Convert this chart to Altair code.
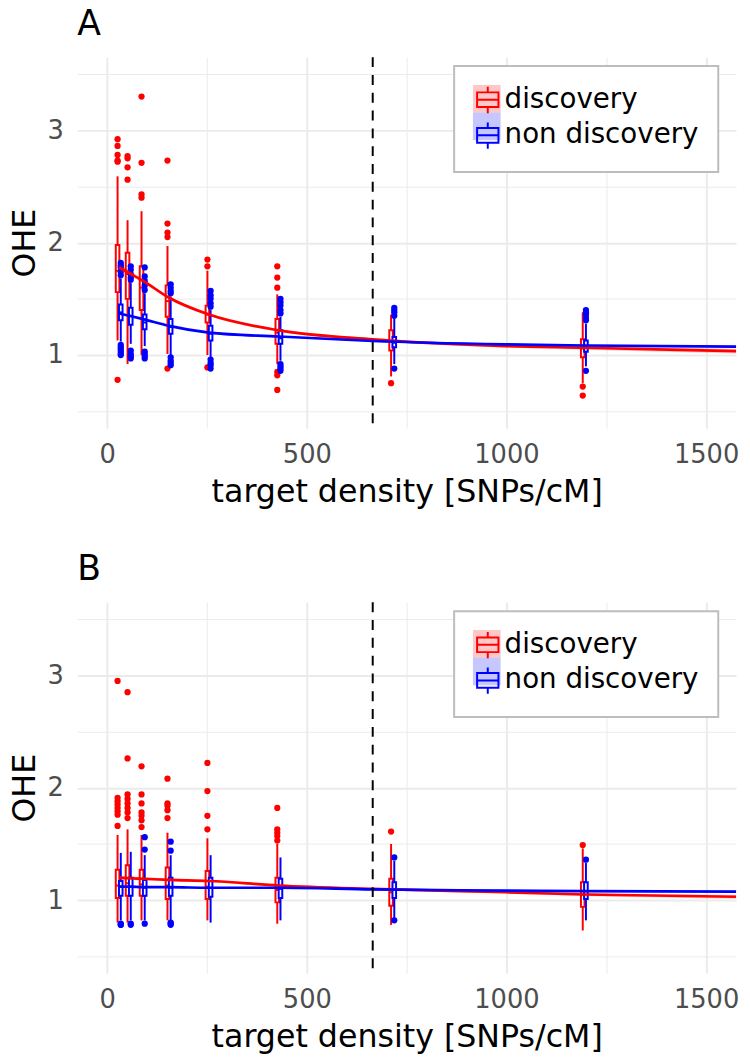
import altair as alt
import pandas as pd

# ---------------- data ----------------
densities = [30, 55, 90, 155, 255, 430, 715, 1195]
groups = ["discovery", "non discovery"]
colors = ["#FF0000", "#0000FF"]
cutoff = [665]

# Panel A - discovery
a_disc_lo = [1.13, 0.92, 1.00, 1.01, 1.00, 0.92, 0.81, 0.75]
a_disc_q1 = [1.56, 1.50, 1.40, 1.34, 1.29, 1.10, 1.04, 0.98]
a_disc_med = [1.75, 1.72, 1.60, 1.48, 1.36, 1.20, 1.12, 1.06]
a_disc_q3 = [1.98, 1.91, 1.79, 1.62, 1.44, 1.32, 1.22, 1.14]
a_disc_hi = [2.59, 2.20, 2.28, 1.97, 1.75, 1.54, 1.36, 1.38]
a_disc_out = [
    [2.92, 2.86, 2.78, 2.73, 2.72, 0.78],
    [2.77, 2.75, 2.67, 2.56],
    [3.30, 2.71, 2.43, 2.40],
    [2.73, 2.17, 2.09, 2.05, 0.88],
    [1.85, 1.79, 0.89],
    [1.79, 1.69, 1.60, 0.85, 0.82, 0.69],
    [0.75],
    [0.72, 0.64],
]
# Panel A - non discovery
a_nd_lo = [1.12, 1.10, 1.08, 1.00, 0.98, 0.95, 0.92, 0.90]
a_nd_q1 = [1.31, 1.27, 1.23, 1.19, 1.13, 1.10, 1.07, 1.03]
a_nd_med = [1.38, 1.35, 1.29, 1.25, 1.19, 1.15, 1.11, 1.08]
a_nd_q3 = [1.45, 1.42, 1.36, 1.32, 1.26, 1.22, 1.16, 1.13]
a_nd_hi = [1.68, 1.64, 1.55, 1.52, 1.40, 1.34, 1.33, 1.28]
a_nd_out = [
    [1.82, 1.80, 1.78, 1.74, 1.71, 1.09, 1.07, 1.05, 1.03, 1.01, 1.00],
    [1.79, 1.76, 1.72, 1.69, 1.67, 1.04, 1.01, 0.99, 0.97],
    [1.78, 1.70, 1.66, 1.62, 1.58, 1.03, 1.01, 0.99, 0.97],
    [1.63, 1.60, 1.57, 1.55, 0.98, 0.95, 0.93, 0.91],
    [1.57, 1.53, 1.50, 1.46, 1.43, 0.96, 0.93, 0.91, 0.88],
    [1.50, 1.47, 1.44, 1.40, 1.37, 0.92, 0.90, 0.88, 0.86],
    [1.42, 1.40, 1.38, 1.35, 0.88],
    [1.40, 1.38, 1.36, 1.33, 1.31, 0.86],
]

# Panel B - discovery
b_disc_lo = [0.80, 0.80, 0.82, 0.82, 0.82, 0.79, 0.78, 0.73]
b_disc_q1 = [1.02, 1.04, 1.04, 1.01, 1.01, 0.98, 0.95, 0.94]
b_disc_med = [1.13, 1.15, 1.14, 1.13, 1.12, 1.09, 1.07, 1.05]
b_disc_q3 = [1.27, 1.31, 1.27, 1.29, 1.26, 1.20, 1.19, 1.16]
b_disc_hi = [1.58, 1.63, 1.58, 1.60, 1.55, 1.50, 1.50, 1.46]
b_disc_out = [
    [2.95, 1.91, 1.88, 1.85, 1.82, 1.79, 1.76, 1.66],
    [2.85, 2.26, 1.94, 1.90, 1.86, 1.82, 1.78, 1.73],
    [2.19, 1.94, 1.86, 1.78, 1.75, 1.71, 1.65],
    [2.08, 1.86, 1.84, 1.80, 1.73],
    [2.22, 1.97, 1.75, 1.63],
    [1.82, 1.63, 1.60, 1.57, 1.53],
    [1.61],
    [1.49],
]
# Panel B - non discovery
b_nd_lo = [0.82, 0.82, 0.82, 0.82, 0.80, 0.82, 0.84, 0.82]
b_nd_q1 = [1.04, 1.04, 1.04, 1.04, 1.03, 1.02, 1.02, 1.01]
b_nd_med = [1.12, 1.12, 1.11, 1.11, 1.11, 1.10, 1.09, 1.08]
b_nd_q3 = [1.17, 1.20, 1.18, 1.20, 1.20, 1.19, 1.16, 1.16]
b_nd_hi = [1.42, 1.43, 1.40, 1.40, 1.40, 1.38, 1.35, 1.33]
b_nd_out = [
    [0.79, 0.78, 0.78],
    [0.79, 0.78],
    [1.56, 1.45, 0.79],
    [1.52, 1.44, 0.80, 0.79, 0.78],
    [],
    [],
    [1.38, 0.82],
    [1.36],
]

# smooth fits (read at these densities)
fit_x = [30, 55, 90, 155, 255, 430, 665, 1000, 1195, 1575]
a_disc_fit = [1.78, 1.73, 1.66, 1.51, 1.36, 1.22, 1.14, 1.08, 1.065, 1.035]
a_disc_se = [0.03, 0.025, 0.02, 0.015, 0.012, 0.012, 0.012, 0.015, 0.018, 0.022]
a_nd_fit = [1.37, 1.35, 1.32, 1.26, 1.20, 1.165, 1.125, 1.095, 1.085, 1.075]
a_nd_se = [0.012, 0.01, 0.008, 0.007, 0.006, 0.006, 0.006, 0.007, 0.008, 0.01]
b_disc_fit = [1.20, 1.195, 1.19, 1.18, 1.17, 1.13, 1.10, 1.07, 1.05, 1.03]
b_disc_se = [0.02, 0.018, 0.015, 0.012, 0.01, 0.01, 0.01, 0.012, 0.014, 0.018]
b_nd_fit = [1.12, 1.12, 1.115, 1.115, 1.11, 1.11, 1.095, 1.085, 1.08, 1.075]
b_nd_se = [0.008, 0.007, 0.006, 0.005, 0.005, 0.005, 0.005, 0.006, 0.007, 0.008]

# ---------------- helpers ----------------
FONT = "DejaVu Sans"
BOX_PATH = "M0,-0.93L0,-0.53M-0.77,-0.53L0.77,-0.53L0.77,0.53L-0.77,0.53ZM-0.77,0L0.77,0M0,0.53L0,0.97"

xscale = alt.Scale(domain=[-75, 1575], nice=False, zero=False)
yscale = alt.Scale(domain=[0.35, 3.65], nice=False, zero=False)

xaxis = alt.Axis(
    values=[0, 250, 500, 750, 1000, 1250, 1500],
    labelExpr="datum.value % 500 === 0 ? format(datum.value, 'd') : ''",
    gridWidth={"condition": {"test": "datum.value % 500 === 0", "value": 2}, "value": 1},
    labelPadding=14,
    titlePadding=9,
)
yaxis = alt.Axis(
    values=[0.5, 1, 1.5, 2, 2.5, 3, 3.5],
    labelExpr="datum.value % 1 === 0 ? format(datum.value, 'd') : ''",
    gridWidth={"condition": {"test": "datum.value % 1 === 0", "value": 2}, "value": 1},
    labelPadding=14,
    titlePadding=6,
)
XT = "target density [SNPs/cM]"
YT = "OHE"


def X(field):
    return alt.X(field, type="quantitative", scale=xscale, axis=xaxis, title=XT)


def Y(field):
    return alt.Y(field, type="quantitative", scale=yscale, axis=yaxis, title=YT)


def legends():
    # drawn on top: pale key backgrounds only
    fill_leg = alt.Legend(
        orient="none", legendX=381, legendY=9, title=None,
        symbolType="square", symbolSize=784, symbolOpacity=0.22,
        symbolStrokeWidth=0, padding=19, labelOffset=2,
        labelFontSize=28, labelFont=FONT, labelColor="black", labelOpacity=0,
        labelLimit=400,
    )
    # drawn underneath: frame, white background, box icons and labels
    stroke_leg = alt.Legend(
        orient="none", legendX=381, legendY=9, title=None,
        symbolType=BOX_PATH, symbolSize=784, symbolStrokeWidth=2,
        symbolFillColor="transparent", padding=19,
        strokeColor="#bdbdbd", fillColor="white",
        labelOffset=2, labelFontSize=28, labelFont=FONT, labelColor="black",
        labelLimit=400,
    )
    return fill_leg, stroke_leg


def panel(title, box_tables, out_tables, fit_tables):
    fill_leg, stroke_leg = legends()
    fill_scale = alt.Scale(domain=groups, range=colors)
    stroke_scale = alt.Scale(range=colors)

    def S():
        return alt.Stroke("g:N", scale=stroke_scale, legend=stroke_leg)

    def F():
        return alt.Fill("g:N", scale=fill_scale, legend=fill_leg)

    rows = []
    for g, (lo, q1, med, q3, hi) in zip(groups, box_tables):
        for i, d in enumerate(densities):
            rows.append(dict(g=g, d=d, lo=lo[i], q1=q1[i], med=med[i], q3=q3[i], hi=hi[i]))
    box_df = pd.DataFrame(rows)
    orows = []
    for g, outs in zip(groups, out_tables):
        for i, d in enumerate(densities):
            for v in outs[i]:
                orows.append(dict(g=g, d=d, v=v))
    out_df = pd.DataFrame(orows)
    frows = []
    for g, (fit, se) in zip(groups, fit_tables):
        for i, x in enumerate(fit_x):
            frows.append(dict(g=g, x=x, fit=fit[i], lo=fit[i] - se[i], hi=fit[i] + se[i]))
    fit_df = pd.DataFrame(frows)

    dodge = "datum.d + (datum.g === 'discovery' ? -4 : 4)"
    layers = []
    for g in groups:
        base = (
            alt.Chart(box_df)
            .transform_filter(alt.datum.g == g)
            .transform_calculate(pos=dodge)
            .transform_calculate(xa="datum.pos - 4.5", xb="datum.pos + 4.5")
        )
        layers.append(base.mark_rule(strokeWidth=2).encode(x=X("pos"), y=Y("lo"), y2="hi:Q", stroke=S()))
        layers.append(
            base.mark_bar(fill="white", strokeWidth=2).encode(
                x=X("xa"), x2="xb:Q", y=Y("q1"), y2="q3:Q", stroke=S()
            )
        )
        layers.append(
            base.mark_rule(strokeWidth=2).encode(x=X("xa"), x2="xb:Q", y=Y("med"), stroke=S())
        )
        layers.append(
            alt.Chart(out_df)
            .transform_filter(alt.datum.g == g)
            .transform_calculate(pos=dodge)
            .mark_circle(size=40, opacity=1)
            .encode(x=X("pos"), y=Y("v"), fill=F())
        )
    for g in groups:
        fb = alt.Chart(fit_df).transform_filter(alt.datum.g == g)
        layers.append(
            fb.mark_area(opacity=0.2, interpolate="monotone").encode(
                x=X("x"), y=Y("lo"), y2="hi:Q", fill=F()
            )
        )
        layers.append(
            fb.mark_line(strokeWidth=2.7, interpolate="monotone").encode(
                x=X("x"), y=Y("fit"), stroke=S()
            )
        )
    layers.append(
        alt.Chart(pd.DataFrame({"c": cutoff}))
        .mark_rule(strokeDash=[10, 8], strokeWidth=2, color="black")
        .encode(x=X("c"))
    )
    return alt.layer(*layers).properties(
        width=666,
        height=375,
        title=alt.Title(title, anchor="start", frame="group", fontSize=35, font=FONT,
                        fontWeight="normal", color="black", offset=14),
    )


panel_a = panel(
    "A",
    [(a_disc_lo, a_disc_q1, a_disc_med, a_disc_q3, a_disc_hi),
     (a_nd_lo, a_nd_q1, a_nd_med, a_nd_q3, a_nd_hi)],
    [a_disc_out, a_nd_out],
    [(a_disc_fit, a_disc_se), (a_nd_fit, a_nd_se)],
)
panel_b = panel(
    "B",
    [(b_disc_lo, b_disc_q1, b_disc_med, b_disc_q3, b_disc_hi),
     (b_nd_lo, b_nd_q1, b_nd_med, b_nd_q3, b_nd_hi)],
    [b_disc_out, b_nd_out],
    [(b_disc_fit, b_disc_se), (b_nd_fit, b_nd_se)],
)

chart = (
    alt.vconcat(panel_a, panel_b, spacing=46)
    .resolve_scale(fill="independent", stroke="independent")
    .resolve_legend(fill="independent", stroke="independent")
    .properties(padding={"top": -6, "left": 0, "right": 0, "bottom": 0})
    .configure_view(stroke=None)
    .configure_axis(
        grid=True, gridColor="#ebebeb", domain=False, ticks=False,
        labelFont=FONT, labelFontSize=26, labelColor="#4d4d4d",
        titleFont=FONT, titleFontSize=32, titleFontWeight="normal", titleColor="black",
    )
    .configure_legend(strokeWidth=2, rowPadding=0)
)

chart.save("out.html", embed_options={"renderer": "svg", "actions": False})
